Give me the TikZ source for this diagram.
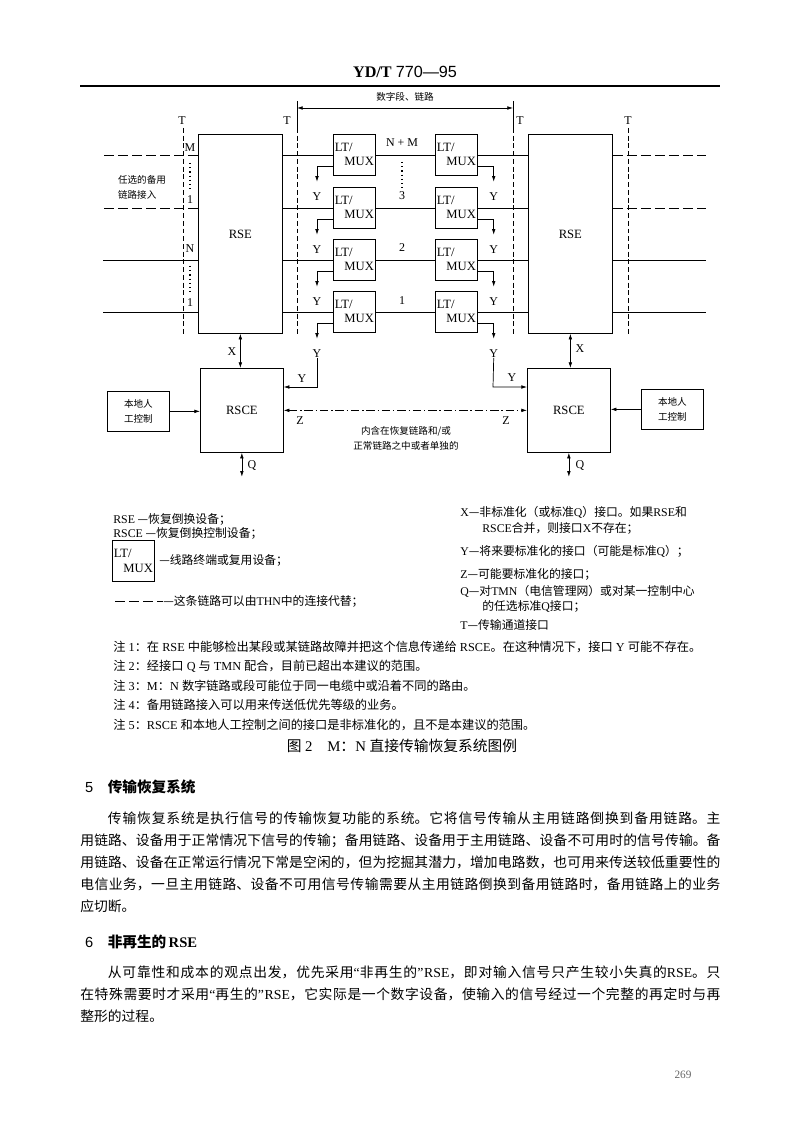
\documentclass[tikz,border=0pt]{standalone}
\usepackage{fontspec}
\setmainfont{Liberation Serif}
\setsansfont{Liberation Sans}
\newfontfamily\cjk{Noto Sans CJK SC}
\usetikzlibrary{arrows.meta,calc}
\XeTeXlinebreaklocale "zh"
\XeTeXlinebreakskip=0pt plus 1pt
\newcommand\en[1]{{\rmfamily #1}}
\tikzset{
  rsebox/.style={draw,inner sep=0pt,minimum width=2.1cm,minimum height=4.975cm,font=\fontsize{9}{10}\selectfont},
  muxbox/.style={draw,inner sep=0pt,minimum width=1.05cm,minimum height=1.025cm,text width=0.98cm,align=left,font=\fontsize{9}{10}\selectfont},
  ctlbox/.style={draw,inner sep=0pt,minimum width=2.075cm,minimum height=2.1cm,font=\fontsize{9}{10}\selectfont},
  locbox/.style={draw,inner sep=0pt,minimum width=1.55cm,minimum height=1cm,align=center,font=\cjk\fontsize{6.8}{10.5}\selectfont},
  lbl/.style={inner sep=0pt,font=\fontsize{8.5}{9}\selectfont},
  zh/.style={inner sep=0pt,font=\cjk\fontsize{6.8}{10.5}\selectfont},
  leg/.style={inner sep=0pt,font=\cjk\fontsize{8.4}{10}\selectfont},
  note/.style={inner sep=0pt,font=\cjk\fontsize{8.7}{10}\selectfont},
  para/.style={inner sep=0pt,text width=16cm,align=justify,font=\cjk\fontsize{9.8}{15.7}\selectfont},
  tline/.style={dash pattern=on 3.5pt off 2pt},
  spare/.style={dash pattern=on 7pt off 3pt},
  zline/.style={dash pattern=on 6pt off 2pt on 1pt off 2pt},
}
\begin{document}
\begin{tikzpicture}[x=0.025cm,y=-0.025cm,>={Latex[length=4pt,width=2.6pt]},line width=0.5pt]
\path[fill=white] (0,0) rectangle (800,1128);
% page head
\node[font=\fontsize{11.5}{12}\selectfont] (hdr) at (405,72) {\textbf{YD/T}\ \textsf{770—95}};
\draw[line width=0.8pt] (80,86) -- (720,86);

% digital section
\node[zh] (seg) at (405,97) {数字段、链路};
\draw (297,101) -- (297,128);
\draw (513,101) -- (513,128);
\draw[<->] (297,108) -- (513,108);
\foreach \x in {183,297,513,628} \draw[tline] (\x,128) -- (\x,334);
\foreach \x/\n in {182/t1,287/t2,520/t3,628/t4} \node[lbl] (\n) at (\x,121) {T};

% switching equipment and line terminals
\node[rsebox,anchor=north west] (rseL) at (198,134) {RSE};
\node[rsebox,anchor=north west] (rseR) at (528,134) {RSE};
\foreach \i/\y in {1/134,2/187,3/239,4/291} {
  \node[muxbox,anchor=north west] (muxL\i) at (333,\y) {LT/\\\mbox{}\hfill MUX};
  \node[muxbox,anchor=north west] (muxR\i) at (435,\y) {LT/\\\mbox{}\hfill MUX};
}
\foreach \i in {1,...,4} {
  \draw (muxL\i.west -| rseL.east) -- (muxL\i.west);
  \draw (muxL\i.east) -- (muxR\i.west);
  \draw (muxR\i.east) -- (muxR\i.east -| rseR.west);
}
\foreach \i/\s in {1/spare,2/spare,3/solid,4/solid} {
  \draw[\s] (muxL\i.west -| rseL.west) -- ++(-95,0);
  \draw[\s] (muxR\i.east -| rseR.east) -- ++(93,0);
}
% Y taps
\foreach \i in {1,...,4} {
  \draw[->] ($(muxL\i.south west)+(0,-9)$) -| ++(-16,15);
  \draw[->] ($(muxR\i.south east)+(0,-9)$) -| ++(16,15);
  \node[lbl] (yL\i) at ($(muxL\i.south west)+(-16,21)$) {Y};
  \node[lbl] (yR\i) at ($(muxR\i.south east)+(16,21)$) {Y};
}
% channel numbers
\node[lbl] (mL) at (190,148) {M};
\draw[line width=0.8pt,dash pattern=on 0.8pt off 2.2pt] (190,163) -- (190,190);
\node[lbl] (oneL) at (190,200) {1};
\node[lbl] (nL) at (190,249) {N};
\draw[line width=0.8pt,dash pattern=on 0.8pt off 2.2pt] (190,266) -- (190,292);
\node[lbl] (oneN) at (190,303) {1};
\node[zh,align=left] (opt) at (142,187) {任选的备用\\链路接入};
\node[lbl] (nm) at (402,143) {N + M};
\draw[line width=0.8pt,dash pattern=on 0.8pt off 2.2pt] (402,162) -- (402,189);
\node[lbl] (c3) at (402,196) {3};
\node[lbl] (c2) at (402,248) {2};
\node[lbl] (c1) at (402,301) {1};

% control equipment
\node[ctlbox,anchor=north west] (rscL) at (200,368) {RSCE};
\node[ctlbox,anchor=north west] (rscR) at (527,368) {RSCE};
\node[locbox,anchor=north west] (locL) at (107,391) {本地人\\工控制};
\node[locbox,anchor=north west] (locR) at (641,389) {本地人\\工控制};
\coordinate (bendL) at (317,387);
\coordinate (bendR) at (493,387);
\draw[->] (yL4.south) -- (bendL) -- (bendL -| rscL.east);
\draw[->] (yR4.south) -- (bendR) -- (bendR -| rscR.west);
\node[lbl] (yLc) at (302,379) {Y};
\node[lbl] (yRc) at (512,378) {Y};
\draw[<->] (rseL.south) -- (rseL.south |- rscL.north);
\draw[<->] (rseR.south) -- (rseR.south |- rscR.north);
\node[lbl] (xL) at (232,352) {X};
\node[lbl] (xR) at (580,349) {X};
\draw[->] (locL.east) -- (locL.east -| rscL.west);
\draw[->] (locR.west) -- (locR.west -| rscR.east);
\draw[<->,zline] (rscL.east) -- (rscR.west);
\node[lbl] (zL) at (300,421) {Z};
\node[lbl] (zR) at (506,421) {Z};
\node[zh,align=center] (ztxt) at (406,438) {内含在恢复链路和/或\\正常链路之中或者单独的};
\draw[<->] (rscL.south) -- ++(0,24);
\draw[<->] (rscR.south) -- ++(0,24);
\node[lbl] (qL) at (252,466) {Q};
\node[lbl] (qR) at (580,466) {Q};

% legend
\node[leg,anchor=west] (lg1) at (113,519) {\en{RSE} —恢复倒换设备；};
\node[leg,anchor=west] (lg2) at (113,533) {\en{RSCE} —恢复倒换控制设备；};
\node[muxbox,anchor=north west] (legmux) at (112,540) {LT/\\\mbox{}\hfill MUX};
\node[leg,anchor=west] (lg3) at ([xshift=3pt]legmux.east) {—线路终端或复用设备；};
\draw[spare] (115,601) -- (163,601);
\node[leg,anchor=west] (lg4) at (163,601) {—这条链路可以由\en{THN}中的连接代替；};
\node[leg,anchor=west] (lx) at (460,512) {\en{X}—非标准化（或标准\en{Q}）接口。如果\en{RSE}和};
\node[leg,anchor=west] (lx2) at (482,528) {\en{RSCE}合并，则接口\en{X}不存在；};
\node[leg,anchor=west] (ly) at (460,551) {\en{Y}—将来要标准化的接口（可能是标准\en{Q}）；};
\node[leg,anchor=west] (lz) at (460,574) {\en{Z}—可能要标准化的接口；};
\node[leg,anchor=west] (lq) at (460,591) {\en{Q}—对\en{TMN}（电信管理网）或对某一控制中心};
\node[leg,anchor=west] (lq2) at (482,606) {的任选标准\en{Q}接口；};
\node[leg,anchor=west] (lt) at (460,625) {\en{T}—传输通道接口};

% notes
\node[note,anchor=west] (n1) at (113,647) {注\en{ 1}：在\en{ RSE }中能够检出某段或某链路故障并把这个信息传递给\en{ RSCE}。在这种情况下，接口\en{ Y }可能不存在。};
\node[note,anchor=west] (n2) at (113,666) {注\en{ 2}：经接口\en{ Q }与\en{ TMN }配合，目前已超出本建议的范围。};
\node[note,anchor=west] (n3) at (113,686) {注\en{ 3}：\en{M}：\en{N }数字链路或段可能位于同一电缆中或沿着不同的路由。};
\node[note,anchor=west] (n4) at (113,705) {注\en{ 4}：备用链路接入可以用来传送低优先等级的业务。};
\node[note,anchor=west] (n5) at (113,725) {注\en{ 5}：\en{RSCE }和本地人工控制之间的接口是非标准化的，且不是本建议的范围。};
\node[font=\cjk\fontsize{10.5}{12}\selectfont] (cap) at (402,746) {图\en{ 2}\quad\en{M}：\en{N }直接传输恢复系统图例};

% body text
\node[anchor=west,font=\cjk\bfseries\fontsize{10.4}{12}\selectfont] (h5) at (80,787) {\textsf{\mdseries 5}\quad 传输恢复系统};
\node[para,anchor=north west] (p5) at (80,811) {\hspace*{2em}传输恢复系统是执行信号的传输恢复功能的系统。它将信号传输从主用链路倒换到备用链路。主\linebreak
用链路、设备用于正常情况下信号的传输；备用链路、设备用于主用链路、设备不可用时的信号传输。备\linebreak
用链路、设备在正常运行情况下常是空闲的，但为挖掘其潜力，增加电路数，也可用来传送较低重要性的\linebreak
电信业务，一旦主用链路、设备不可用信号传输需要从主用链路倒换到备用链路时，备用链路上的业务\linebreak
应切断。};
\node[anchor=west,font=\cjk\bfseries\fontsize{10.4}{12}\selectfont] (h6) at (80,942) {\textsf{\mdseries 6}\quad 非再生的\,\en{RSE}};
\node[para,anchor=north west] (p6) at (80,965) {\hspace*{2em}从可靠性和成本的观点出发，优先采用\en{“}非再生的\en{”}\en{RSE}，即对输入信号只产生较小失真的\en{RSE}。只\linebreak
在特殊需要时才采用\en{“}再生的\en{”}\en{RSE}，它实际是一个数字设备，使输入的信号经过一个完整的再定时与再\linebreak
整形的过程。};
\node[font=\fontsize{8}{9}\selectfont,text=black!60] (pg) at (683,1075) {269};
\end{tikzpicture}
\end{document}
